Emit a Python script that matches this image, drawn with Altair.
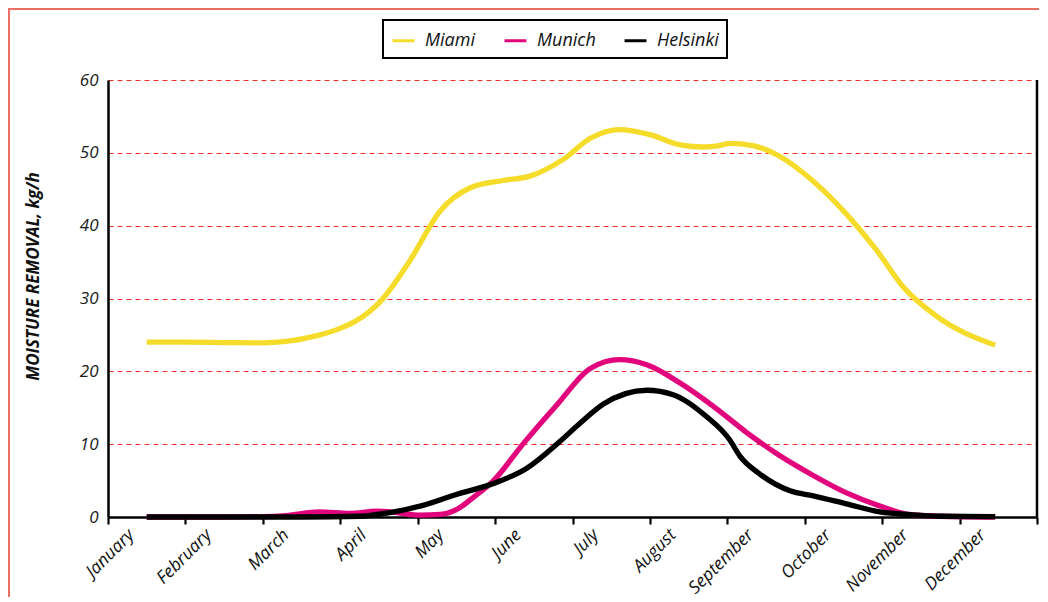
import json
import altair as alt
import pandas as pd

months = ["January", "February", "March", "April", "May", "June", "July",
          "August", "September", "October", "November", "December"]

cities = ["Miami", "Munich", "Helsinki"]
city_colors = ["#f6dc2a", "#e1047c", "#000000"]

miami_x = [0.5, 1.0, 1.5, 2.0, 2.3, 2.7, 3.0, 3.2, 3.51, 3.9, 4.29, 4.68, 5.1, 5.45, 5.88,
           6.23, 6.61, 7.0, 7.39, 7.69, 7.9, 8.03, 8.33, 8.68, 9.11, 9.67, 9.93, 10.27,
           10.71, 11.46]
miami_y = [24.0, 24.0, 23.95, 23.9, 24.1, 24.9, 25.9, 26.9, 29.5, 35.2, 42.0, 45.2, 46.2,
           46.8, 49.1, 52.0, 53.2, 52.5, 51.1, 50.8, 51.0, 51.3, 51.0, 49.5, 46.1, 40.0,
           36.6, 31.6, 27.5, 23.6]

munich_x = [0.5, 1.5, 2.0, 2.3, 2.73, 3.12, 3.47, 3.73, 4.03, 4.29, 4.5, 4.72, 4.98, 5.36,
            5.8, 6.23, 6.61, 6.96, 7.39, 7.82, 8.25, 8.68, 9.11, 9.54, 9.97, 10.32, 10.75,
            11.46]
munich_y = [0.0, 0.0, 0.05, 0.2, 0.7, 0.5, 0.8, 0.6, 0.25, 0.35, 1.0, 2.7, 5.0, 10.0,
            15.4, 20.4, 21.6, 20.9, 18.4, 15.2, 11.6, 8.4, 5.7, 3.3, 1.5, 0.4, 0.1, 0.0]

helsinki_x = [0.5, 1.5, 2.5, 3.26, 3.64, 4.07, 4.5, 4.98, 5.41, 5.84, 6.1, 6.4, 6.96, 7.3,
              7.73, 8.03, 8.16, 8.42, 8.81, 9.11, 9.54, 9.97, 10.4, 10.75, 11.46]
helsinki_y = [0.0, 0.0, 0.0, 0.1, 0.6, 1.6, 3.1, 4.6, 6.7, 10.4, 12.9, 15.5, 17.4, 16.8,
              13.8, 10.6, 8.4, 5.9, 3.6, 2.9, 1.8, 0.7, 0.3, 0.1, 0.05]

y_ticks = [0, 10, 20, 30, 40, 50, 60]

rows = []
for city, xs, ys in [("Miami", miami_x, miami_y), ("Munich", munich_x, munich_y),
                     ("Helsinki", helsinki_x, helsinki_y)]:
    for x, y in zip(xs, ys):
        rows.append({"city": city, "month": x, "value": y})
df = pd.DataFrame(rows)

FONT = "Open Sans"
label_expr = "datum.value < 12 ? " + json.dumps(months) + "[datum.value] : ''"

x_scale = alt.Scale(domain=[0, 12], nice=False, zero=True)
y_scale = alt.Scale(domain=[0, 60], nice=False)

lines = alt.Chart(df).mark_line(interpolate="monotone", strokeWidth=5.3).encode(
    x=alt.X("month:Q", scale=x_scale,
            axis=alt.Axis(values=list(range(13)), labelExpr=label_expr, title=None,
                          grid=False, ticks=True, tickSize=7, tickWidth=2.2,
                          tickColor="black", domainColor="black", domainWidth=2.5,
                          labelAngle=-45, labelAlign="right", labelBaseline="middle",
                          labelOffset=23, labelPadding=8, labelFont=FONT,
                          labelFontSize=17.5, labelFontStyle="italic", labelColor="#111111",
                          labelOverlap=False, labelFlush=False, labelBound=False)),
    y=alt.Y("value:Q", scale=y_scale,
            axis=alt.Axis(values=y_ticks, title="MOISTURE REMOVAL, kg/h",
                          titleFont=FONT, titleFontSize=17, titleFontWeight="bold",
                          titleFontStyle="italic", titleColor="#111111",
                          titleX=-66, titleY=196,
                          ticks=False, labelPadding=10, labelFont=FONT, labelFontSize=17,
                          labelFontStyle="italic", labelColor="#1a1a1a",
                          domainColor="black", domainWidth=2.5,
                          gridColor="#ee2e24", gridDash=[5, 4], gridWidth=1)),
    color=alt.Color("city:N", scale=alt.Scale(domain=cities, range=city_colors),
                    legend=alt.Legend(orient="none", legendX=275, legendY=-60,
                                      direction="horizontal", title=None,
                                      symbolType="stroke", symbolSize=480,
                                      symbolStrokeWidth=3, labelFont=FONT,
                                      labelFontSize=18, labelFontStyle="italic",
                                      labelColor="#111111", strokeColor="black",
                                      padding=8, columnPadding=22, labelOffset=9)),
)

right_edge = alt.Chart(alt.Data(values=[{"month": 12, "value": 0, "value2": 60}])).mark_rule(
    color="black", strokeWidth=2.5
).encode(
    x=alt.X("month:Q", scale=x_scale),
    y=alt.Y("value:Q", scale=y_scale),
    y2="value2:Q",
)

frame = alt.Chart(alt.Data(values=[{"a": 1}])).mark_rect(
    fillOpacity=0, stroke="#ec6f64", strokeWidth=2
).encode(
    x=alt.value(-99), x2=alt.value(1000), y=alt.value(-71), y2=alt.value(700)
)

chart = alt.layer(frame, lines, right_edge).properties(
    width=929, height=437, autosize="none",
    padding={"left": 100, "top": 72, "right": 2, "bottom": 80},
).configure_view(strokeWidth=0).configure_legend(strokeWidth=2)

chart.save("out.html", embed_options={"renderer": "svg", "actions": False})
